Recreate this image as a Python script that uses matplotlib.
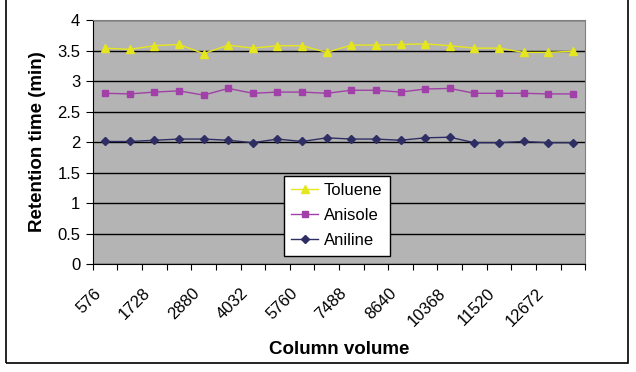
import numpy as np
from matplotlib import pyplot as plt
from matplotlib.patches import Rectangle
from matplotlib.transforms import ScaledTranslation

plt.rcParams['font.family'] = ['Liberation Sans', 'DejaVu Sans']

# Column volume categories (only every other one is labelled in the chart)
volume = [576, 1152, 1728, 2304, 2880, 3456, 4032, 4608, 5760, 6912,
          7488, 8064, 8640, 9792, 10368, 10944, 11520, 12096, 12672, 13248]
toluene = [3.54, 3.52, 3.58, 3.60, 3.45, 3.59, 3.54, 3.58, 3.58, 3.47,
           3.59, 3.59, 3.60, 3.61, 3.58, 3.54, 3.54, 3.47, 3.47, 3.49]
anisole = [2.80, 2.79, 2.82, 2.84, 2.77, 2.88, 2.80, 2.82, 2.82, 2.80,
           2.85, 2.85, 2.82, 2.87, 2.88, 2.80, 2.80, 2.80, 2.79, 2.79]
aniline = [2.01, 2.01, 2.03, 2.05, 2.05, 2.03, 1.99, 2.05, 2.01, 2.07,
           2.05, 2.05, 2.03, 2.07, 2.08, 1.99, 1.99, 2.01, 1.99, 1.99]

x = np.arange(len(volume))

fig = plt.figure(figsize=(6.36, 3.72), dpi=100)
ax = fig.add_axes([0.146, 0.290, 0.774, 0.656])
ax.set_facecolor('#b4b4b4')

# outer chart frame (top edge is cut off in the original)
fig.add_artist(Rectangle((6/636, 1-363/372), 622/636, 1.0, transform=fig.transFigure,
                         fill=False, edgecolor='black', lw=1.2, clip_on=False))

ax.plot(x, toluene, color='#e6e61e', lw=1, marker='^', ms=6, label='Toluene')
ax.plot(x, anisole, color='#a040a8', lw=1, marker='s', ms=4.5, label='Anisole')
ax.plot(x, aniline, color='#2e2e64', lw=1, marker='D', ms=4, label='Aniline')

ax.set_ylim(0, 4)
ax.set_yticks(np.arange(0, 4.01, 0.5))
ax.set_yticklabels(['0', '0.5', '1', '1.5', '2', '2.5', '3', '3.5', '4'])
ax.yaxis.grid(True, color='black', lw=1)
ax.set_axisbelow(True)

# category axis: ticks between categories, labels on every other category
ax.set_xlim(-0.5, len(volume) - 0.5)
ax.set_xticks(np.arange(-0.5, len(volume)))
ax.set_xticklabels([])
ax.tick_params(axis='x', length=4, direction='out')
shift = ScaledTranslation(-12/100, -21.5/100, fig.dpi_scale_trans)
for xi, v in zip(x[::2], volume[::2]):
    ax.text(xi, 0, str(v), transform=ax.get_xaxis_transform() + shift,
            rotation=45, ha='right', va='top', rotation_mode='anchor', fontsize=12)

ax.tick_params(axis='y', length=5, direction='out', labelsize=12, pad=4)

for s in ['top', 'right']:
    ax.spines[s].set_color('#808080')
for s in ['left', 'bottom']:
    ax.spines[s].set_color('black')

ax.set_xlabel('Column volume', fontsize=13.5, fontweight='bold')
ax.xaxis.set_label_coords(0.5, -0.315)
ax.set_ylabel('Retention time (min)', fontsize=13.5, fontweight='bold')
ax.yaxis.set_label_coords(-0.096, 0.5)

leg = ax.legend(loc='lower left', bbox_to_anchor=(0.388, 0.035), fontsize=12,
                frameon=True, fancybox=False, edgecolor='black', framealpha=1,
                handlelength=1.6, borderpad=0.45, labelspacing=0.6, handletextpad=0.35,
                borderaxespad=0)
leg.get_frame().set_linewidth(1)

fig.savefig('out.png', dpi=100)
